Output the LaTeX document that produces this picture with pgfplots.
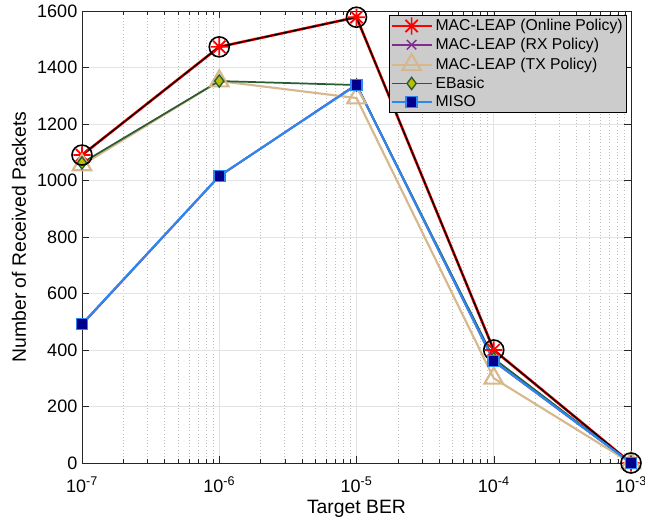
\documentclass[border=0pt]{standalone}
\usepackage{pgfplots}
\pgfplotsset{compat=1.18}
\usepackage{fontspec}
\setmainfont{Liberation Sans}
\definecolor{tanc}{RGB}{214,184,140}
\definecolor{ebline}{RGB}{40,92,52}
\definecolor{ebfill}{RGB}{190,190,0}
\definecolor{misoline}{RGB}{45,135,240}
\definecolor{misofill}{RGB}{0,0,140}
\definecolor{rxc}{RGB}{126,47,142}
\definecolor{leggray}{RGB}{204,204,204}
\pgfdeclareplotmark{ast8}{%
  \pgfpathmoveto{\pgfqpoint{0pt}{\pgfplotmarksize}}%
  \pgfpathlineto{\pgfqpoint{0pt}{-\pgfplotmarksize}}%
  \pgfpathmoveto{\pgfqpoint{\pgfplotmarksize}{0pt}}%
  \pgfpathlineto{\pgfqpoint{-\pgfplotmarksize}{0pt}}%
  \pgfpathmoveto{\pgfqpoint{0.707\pgfplotmarksize}{0.707\pgfplotmarksize}}%
  \pgfpathlineto{\pgfqpoint{-0.707\pgfplotmarksize}{-0.707\pgfplotmarksize}}%
  \pgfpathmoveto{\pgfqpoint{0.707\pgfplotmarksize}{-0.707\pgfplotmarksize}}%
  \pgfpathlineto{\pgfqpoint{-0.707\pgfplotmarksize}{0.707\pgfplotmarksize}}%
  \pgfusepathqstroke}

\begin{document}
\begin{tikzpicture}
\begin{axis}[
at={(0,0)}, anchor=south west,
scale only axis,
width=411.75pt, height=339pt,
xmode=log,
xmin=1e-7, xmax=1e-3,
ymin=0, ymax=1600,
xtick={1e-7,1e-6,1e-5,1e-4,1e-3},
xticklabels={10\textsuperscript{-7},10\textsuperscript{-6},10\textsuperscript{-5},10\textsuperscript{-4},10\textsuperscript{-3}},
ytick={0,200,...,1600},
/pgf/number format/assume math mode=true,
/pgf/number format/1000 sep={},
tick label style={font=\fontsize{13.5}{15}\selectfont},
xticklabel style={yshift=-7pt},
xlabel={Target BER},
ylabel={Number of Received Packets},
every axis x label/.style={at={(axis description cs:0.5,-0.102)}, anchor=center, font=\fontsize{14.5}{16}\selectfont},
every axis y label/.style={at={(axis description cs:-0.115,0.5)}, anchor=center, rotate=90, font=\fontsize{14.5}{16}\selectfont},
xmajorgrids, xminorgrids, ymajorgrids,
major grid style={solid, gray!22},
minor grid style={dotted, gray!50},
axis line style={black!85},
tick style={black!85},
major tick length=5pt, minor tick length=3pt,
clip=false,
legend cell align=left,
legend style={at={(1,1)}, anchor=north east, xshift=-3pt, yshift=-3pt,
  fill=leggray, draw=black, font=\fontsize{11.8}{13}\selectfont,
  inner sep=1pt, row sep=0pt,
  legend image code/.code={\draw[mark repeat=2,mark phase=2] plot coordinates {(0pt,0pt) (15pt,0pt) (30pt,0pt)};}},
]
\addplot[red, line width=2pt, mark=ast8, mark size=6.5pt, mark options={line width=1.3pt}]
  coordinates {(1e-7,1090) (1e-6,1473) (1e-5,1578) (1e-4,400) (1e-3,0)};
\addlegendentry{MAC-LEAP (Online Policy)}
\addplot[rxc, line width=1.5pt, mark=x, mark size=5pt, mark options={line width=1pt}]
  coordinates {(1e-7,490) (1e-6,1015) (1e-5,1340) (1e-4,360) (1e-3,0)};
\addlegendentry{MAC-LEAP (RX Policy)}
\addplot[tanc, line width=1.6pt, mark=triangle, mark size=8pt, mark options={line width=1.6pt}]
  coordinates {(1e-7,1055) (1e-6,1352) (1e-5,1292) (1e-4,300) (1e-3,0)};
\addlegendentry{MAC-LEAP (TX Policy)}
\addplot[ebline, line width=1.3pt, mark=diamond*, mark size=4.6pt, mark options={fill=ebfill, draw=ebline, line width=1pt}]
  coordinates {(1e-7,1062) (1e-6,1352) (1e-5,1338) (1e-4,370) (1e-3,0)};
\addlegendentry{EBasic}
\addplot[forget plot, black, line width=1pt, mark=o, mark size=7.5pt, mark options={line width=1.2pt}]
  coordinates {(1e-7,1090) (1e-6,1473) (1e-5,1578) (1e-4,400) (1e-3,0)};
\addplot[misoline, line width=1.6pt, mark=square*, mark size=4.2pt, mark options={fill=misofill, draw=misoline, line width=1.3pt}]
  coordinates {(1e-7,492) (1e-6,1016) (1e-5,1338) (1e-4,361) (1e-3,0)};
\addlegendentry{MISO}
\end{axis}
\pgfresetboundingbox
\path[use as bounding box] (-61.5pt,-46.5pt) rectangle (422.25pt,347.25pt);
\end{tikzpicture}
\end{document}
